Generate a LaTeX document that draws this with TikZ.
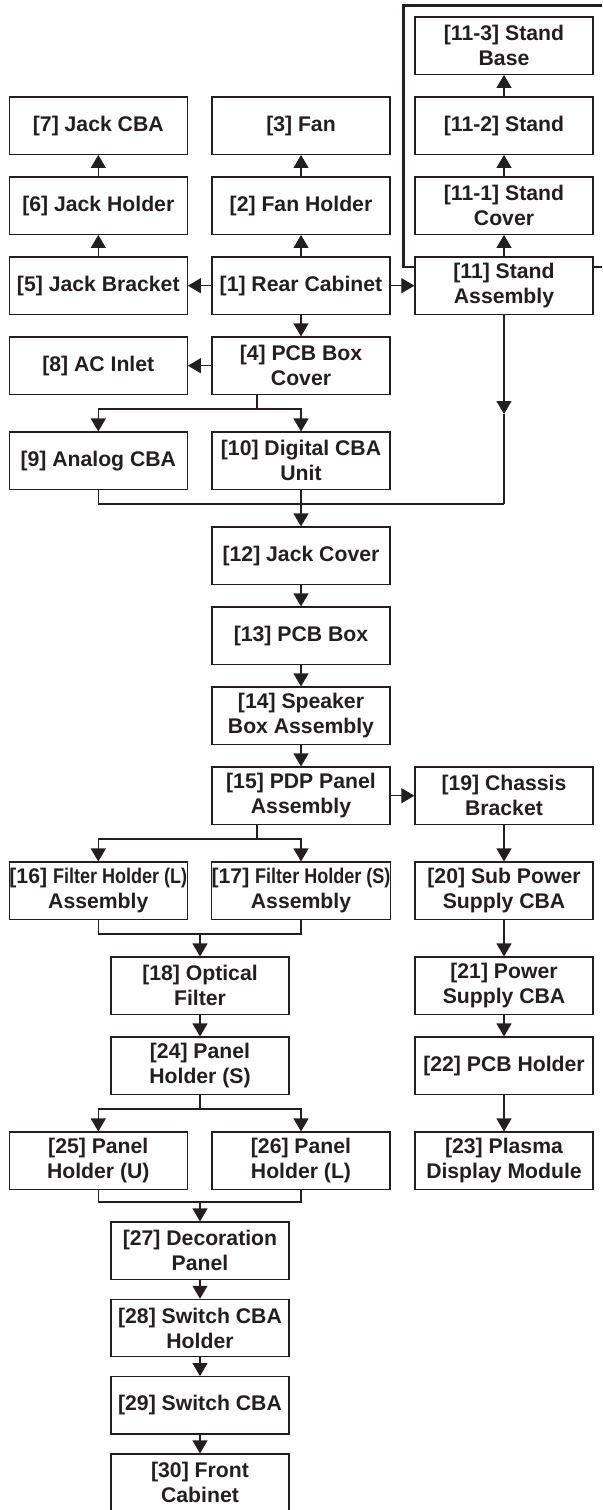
\documentclass[tikz,border=0pt]{standalone}
\usepackage{fontspec}
\setmainfont{Liberation Sans}
\usepackage{graphicx}
\usetikzlibrary{arrows.meta,calc}
\definecolor{ink}{RGB}{35,31,32}
\begin{document}
\begin{tikzpicture}[x=0.5pt,y=-0.5pt,
  box/.style={draw=ink,line width=0.6pt,minimum width=89pt,minimum height=28.65pt,
    inner sep=0pt,align=center,text=ink,font=\bfseries\fontsize{10.6}{12.5}\selectfont},
  arr/.style={draw=ink,line width=0.55pt,-{Triangle[length=6.5pt,width=7.5pt]}},
  ln/.style={draw=ink,line width=0.55pt},
  thick line/.style={draw=ink,line width=1.35pt}]
\useasboundingbox[fill=white] (0,0) rectangle (602,1510);
\newcommand{\cond}[1]{\scalebox{0.85}[1]{#1}}
% nodes
\node[box] (n113) at (504,45.7) {[11-3] Stand\\Base};
\node[box] (n7) at (98.3,125.7) {[7] Jack CBA};
\node[box] (n3) at (301,125.7) {[3] Fan};
\node[box] (n112) at (504,125.7) {[11-2] Stand};
\node[box] (n6) at (98.3,205.7) {[6] Jack Holder};
\node[box] (n2) at (301,205.7) {[2] Fan Holder};
\node[box] (n111) at (504,205.7) {[11-1] Stand\\Cover};
\node[box] (n5) at (98.3,285.7) {[5] Jack Bracket};
\node[box] (n1) at (301,285.7) {[1] Rear Cabinet};
\node[box] (n11) at (504,285.7) {[11] Stand\\Assembly};
\node[box] (n8) at (98.3,365.7) {[8] AC Inlet};
\node[box] (n4) at (301,365.7) {[4] PCB Box\\Cover};
\node[box] (n9) at (98.3,460.7) {[9] Analog CBA};
\node[box] (n10) at (301,460.7) {[10] Digital CBA\\Unit};
\node[box] (n12) at (301,555.7) {[12] Jack Cover};
\node[box] (n13) at (301,635.7) {[13] PCB Box};
\node[box] (n14) at (301,715.7) {[14] Speaker\\Box Assembly};
\node[box] (n15) at (301,795.7) {[15] PDP Panel\\Assembly};
\node[box] (n19) at (504,795.7) {[19] Chassis\\Bracket};
\node[box] (n16) at (98.3,890.7) {[16] \cond{Filter Holder (L)}\\Assembly};
\node[box] (n17) at (301,890.7) {[17] \cond{Filter Holder (S)}\\Assembly};
\node[box] (n20) at (504,890.7) {[20] Sub Power\\Supply CBA};
\node[box] (n18) at (200,985.7) {[18] Optical\\Filter};
\node[box] (n21) at (504,985.7) {[21] Power\\Supply CBA};
\node[box] (n24) at (200,1065.7) {[24] Panel\\Holder (S)};
\node[box] (n22) at (504,1065.7) {[22] PCB Holder};
\node[box] (n25) at (98.3,1160.7) {[25] Panel\\Holder (U)};
\node[box] (n26) at (301,1160.7) {[26] Panel\\Holder (L)};
\node[box] (n23) at (504,1160.7) {[23] Plasma\\Display Module};
\node[box] (n27) at (200,1250.7) {[27] Decoration\\Panel};
\node[box] (n28) at (200,1328) {[28] Switch CBA\\Holder};
\node[box] (n29) at (200,1405.3) {[29] Switch CBA};
\node[box] (n30) at (200,1482.7) {[30] Front\\Cabinet};
% helper coordinates
\coordinate (s4) at (257,409);
\coordinate (m1) at (504,504);
\coordinate (a11) at (504,414);
\coordinate (s15) at (257,839);
\coordinate (m2) at (200,934);
\coordinate (s24) at (200,1109);
\coordinate (m3) at (200,1202);
\coordinate (tl) at (403.3,5.3);
\coordinate (tr) at (602,5.3);
\coordinate (rr) at (602,267);
% stand bracket (thick)
\draw[thick line] ($(n11.west)+(0,-18.7)$) -| (tl) -- (tr);
\draw[thick line] ($(n11.east)+(0,-18.7)$) -- (rr);
% upward chains
\draw[arr] (n1) -- (n2);
\draw[arr] (n2) -- (n3);
\draw[arr] (n5) -- (n6);
\draw[arr] (n6) -- (n7);
\draw[arr] (n11) -- (n111);
\draw[arr] (n111) -- (n112);
\draw[arr] (n112) -- (n113);
% from rear cabinet
\draw[arr] (n1) -- (n5);
\draw[arr] (n1) -- (n11);
\draw[arr] (n1) -- (n4);
\draw[arr] (n4) -- (n8);
% split below [4]
\draw[ln] (n4.south -| s4) -- (s4);
\draw[arr] (s4) -| (n9.north);
\draw[arr] (s4) -| (n10.north);
% stand line down and merge
\draw[arr] (n11.south) -- (a11);
\draw[ln] (a11) -- (m1);
\draw[ln] (n9.south) |- (m1);
\draw[ln] (n10.south) -- (n10.south |- m1);
\draw[arr] (n10.south |- m1) -- (n12.north);
% main chain
\draw[arr] (n12) -- (n13);
\draw[arr] (n13) -- (n14);
\draw[arr] (n14) -- (n15);
\draw[arr] (n15) -- (n19);
% split below [15]
\draw[ln] (n15.south -| s15) -- (s15);
\draw[arr] (s15) -| (n16.north);
\draw[arr] (s15) -| (n17.north);
% merge to [18]
\draw[ln] (n16.south) |- (n17.south |- m2) -- (n17.south);
\draw[arr] (m2) -- (n18.north);
\draw[arr] (n18) -- (n24);
% split below [24]
\draw[ln] (n24.south) -- (s24);
\draw[arr] (s24) -| (n25.north);
\draw[arr] (s24) -| (n26.north);
% merge to [27]
\draw[ln] (n25.south) |- (n26.south |- m3) -- (n26.south);
\draw[arr] (m3) -- (n27.north);
\draw[arr] (n27) -- (n28);
\draw[arr] (n28) -- (n29);
\draw[arr] (n29) -- (n30);
% right chain
\draw[arr] (n19) -- (n20);
\draw[arr] (n20) -- (n21);
\draw[arr] (n21) -- (n22);
\draw[arr] (n22) -- (n23);
\end{tikzpicture}
\end{document}
